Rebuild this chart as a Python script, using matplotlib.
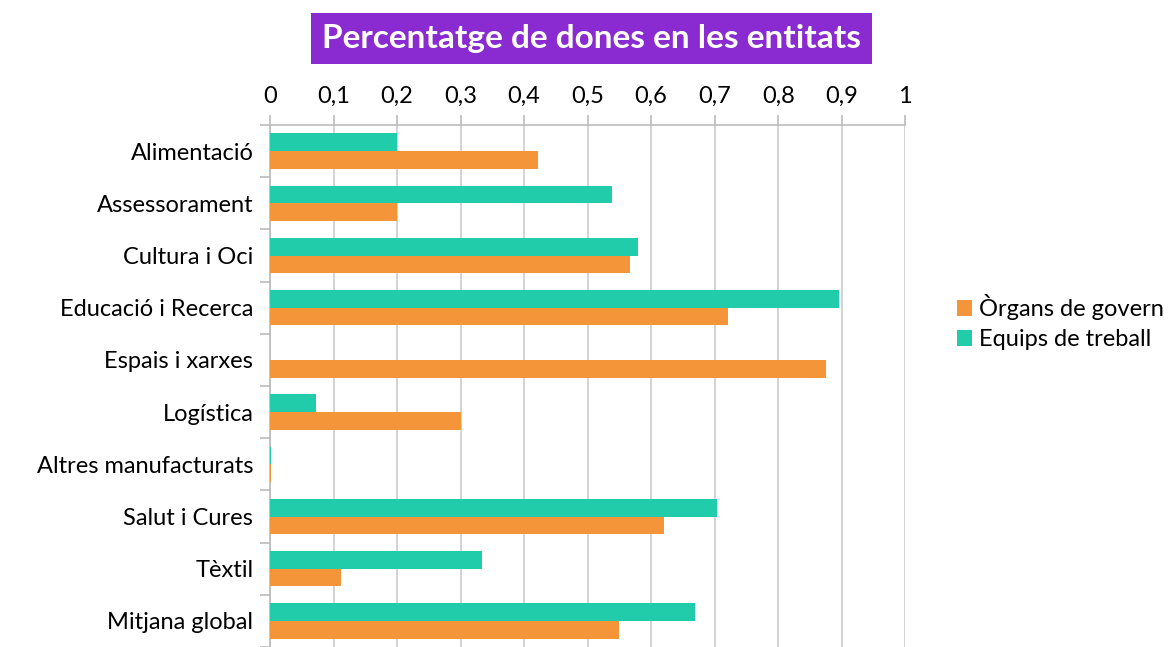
import matplotlib
matplotlib.use('Agg')
import matplotlib.pyplot as plt
from matplotlib.ticker import FixedLocator, FuncFormatter
import numpy as np

plt.rcParams['font.family'] = ['Lato', 'DejaVu Sans']

categories = ['Alimentació', 'Assessorament', 'Cultura i Oci', 'Educació i Recerca',
              'Espais i xarxes', 'Logística', 'Altres manufacturats', 'Salut i Cures',
              'Tèxtil', 'Mitjana global']
organs = [0.4215, 0.200, 0.5665, 0.7214, 0.875, 0.300, 0.002, 0.620, 0.1117, 0.549]
equips = [0.200, 0.5386, 0.579, 0.8956, 0.0, 0.0725, 0.002, 0.704, 0.3344, 0.6695]
xticks = [0, 0.1, 0.2, 0.3, 0.4, 0.5, 0.6, 0.7, 0.8, 0.9, 1]

c_org = '#F5953A'
c_eq = '#21CCAA'
grey = '#BBBBBB'

fig = plt.figure(figsize=(11.74, 6.47), dpi=100)
ax = fig.add_axes([0.23, 0.0, 0.541, 0.8068])

y = np.arange(len(categories))
h = 0.34
ax.barh(y - h / 2, equips, height=h, color=c_eq, label='Equips de treball', zorder=3)
ax.barh(y + h / 2, organs, height=h, color=c_org, label='Òrgans de govern', zorder=3)

ax.set_xlim(0, 1)
ax.set_ylim(len(categories) - 0.5, -0.5)
ax.xaxis.tick_top()
ax.xaxis.set_major_locator(FixedLocator(xticks))
ax.xaxis.set_major_formatter(FuncFormatter(lambda v, p: ('%g' % v).replace('.', ',')))
ax.tick_params(axis='x', length=7, color=grey, labelsize=17, pad=6, width=1.2)
ax.grid(axis='x', color='#CCCCCC', linewidth=1.2, zorder=0)

ax.set_yticks(y)
ax.set_yticklabels(categories)
ax.yaxis.set_minor_locator(FixedLocator(np.arange(len(categories) + 1) - 0.5))
ax.tick_params(axis='y', which='major', length=0, labelsize=17, pad=12)
ax.tick_params(axis='y', which='minor', length=7, color=grey, width=1.2)

for s in ['right', 'bottom']:
    ax.spines[s].set_visible(False)
for s in ['top', 'left']:
    ax.spines[s].set_color(grey)
    ax.spines[s].set_linewidth(1.2)

handles, labels = ax.get_legend_handles_labels()
fig.legend(handles[::-1], labels[::-1], loc='center left', bbox_to_anchor=(0.797, 0.502),
           frameon=False, fontsize=17, handlelength=0.65, handleheight=0.65,
           handletextpad=0.3, labelspacing=0.4)

fig.text(0.504, 0.941, 'Percentatge de dones en les entitats', ha='center', va='center',
         fontsize=24, fontweight='bold', color='white',
         bbox=dict(boxstyle='square,pad=0.33', facecolor='#8A2BD2', edgecolor='none'))

fig.savefig('out.png', dpi=100)
